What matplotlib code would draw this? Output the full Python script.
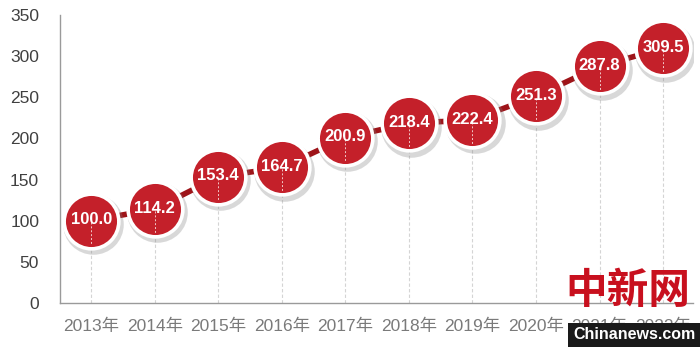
import matplotlib
matplotlib.use("Agg")
import matplotlib.pyplot as plt
import matplotlib.transforms as mtransforms

plt.rcParams["font.family"] = ["Liberation Sans", "Noto Sans CJK SC", "DejaVu Sans"]

# data
years = ["2013年", "2014年", "2015年", "2016年", "2017年",
         "2018年", "2019年", "2020年", "2021年", "2022年"]
values = [100.0, 114.2, 153.4, 164.7, 200.9, 218.4, 222.4, 251.3, 287.8, 309.5]
yticks = [0, 50, 100, 150, 200, 250, 300, 350]

RED = "#c4202a"
LINE_RED = "#9e1419"
AXIS_GRAY = "#9a9a9a"

fig = plt.figure(figsize=(7.0, 3.47), dpi=100)
ax = fig.add_axes([0.0857, 0.1268, 0.9043, 0.83])

x = list(range(len(values)))

# connecting line
ax.plot(x, values, color=LINE_RED, linewidth=4.0, zorder=2, solid_capstyle="round")

# dashed drop lines to axis
for xi, v in zip(x, values):
    ax.plot([xi, xi], [0, v], color="#d4d4d4", linewidth=0.8,
            linestyle=(0, (3, 2)), zorder=1)

# shadow behind circles
shadow = mtransforms.offset_copy(ax.transData, fig=fig, x=1.5, y=-2.5, units="points")
ax.scatter(x, values, s=1900, color="#808080", alpha=0.3, linewidths=0,
           transform=shadow, zorder=3)

# circles
ax.scatter(x, values, s=1550, color=RED, edgecolors="white", linewidths=2.6,
           zorder=4)

# dashed line inside circle (below the text)
for xi, v in zip(x, values):
    ax.plot([xi, xi], [v - 2, v - 29], color="#f0c8c8", linewidth=0.7,
            linestyle=(0, (2, 2)), zorder=5)

for xi, v in zip(x, values):
    ax.text(xi, v + 1, f"{v:.1f}", ha="center", va="center", color="white",
            fontsize=12, fontweight="bold", zorder=6)

ax.set_xlim(-0.49, 9.47)
ax.set_ylim(0, 350)
ax.set_xticks(x)
ax.set_xticklabels(years)
ax.set_yticks(yticks)
ax.tick_params(axis="both", length=0)
ax.tick_params(axis="y", pad=15, labelsize=12.5, labelcolor="#404040")
ax.tick_params(axis="x", pad=11, labelsize=12.5, labelcolor="#7a7a7a")

for s in ["top", "right"]:
    ax.spines[s].set_visible(False)
for s in ["left", "bottom"]:
    ax.spines[s].set_color(AXIS_GRAY)
    ax.spines[s].set_linewidth(1.0)

# watermark
fig.text(0.897, 0.16, "中新网", ha="center", va="center", color="#c8101e",
         fontsize=30, fontweight="bold", family=["Noto Sans CJK SC"])
fig.text(0.906, 0.035, "Chinanews.com", ha="center", va="center", color="white",
         fontsize=11.5, fontweight="bold",
         bbox=dict(boxstyle="square,pad=0.3", facecolor="#1a1a1a",
                   edgecolor="none"))

fig.savefig("out.png", dpi=100)
